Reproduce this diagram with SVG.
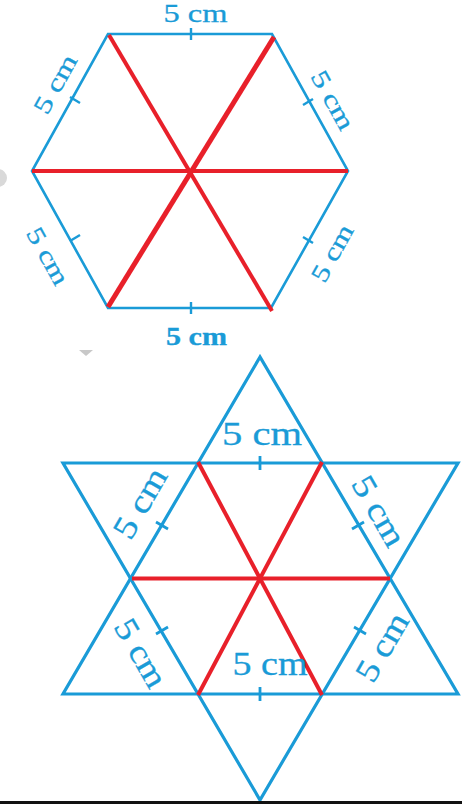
<svg xmlns="http://www.w3.org/2000/svg" width="462" height="804" viewBox="0 0 462 804">
<style>
.b{stroke:#1a9bd7;fill:none;stroke-linejoin:miter;stroke-linecap:butt}
.r{stroke:#e8202a;fill:none;stroke-linecap:butt}
.t{fill:#1a9bd7;stroke:#1a9bd7;stroke-width:0.3;font-family:"Liberation Serif","Times New Roman",serif;text-anchor:middle;dominant-baseline:central}
.hs{font-size:25px}
.ss{font-size:33px}
</style>
<rect width="462" height="804" fill="#ffffff"/>
<circle cx="-2" cy="178" r="9" fill="#d9d9d9"/>
<path d="M79,350 L93,350 L86,356 Z" fill="#c8c8c8"/>
<g id="hexagon">
  <polygon class="b" stroke-width="2.6" points="108,34 272,34 348,171 271,308 108,308 32,171"/>
  <g class="b" stroke-width="2.4">
    <line x1="191" y1="28" x2="191" y2="40"/>
    <line x1="191" y1="302" x2="191" y2="314"/>
    <line x1="70" y1="97" x2="80" y2="103"/>
    <line x1="303" y1="105" x2="313" y2="99"/>
    <line x1="70" y1="241" x2="80" y2="235"/>
    <line x1="303" y1="237" x2="313" y2="243"/>
  </g>
  <line class="r" stroke-width="4" x1="32" y1="171" x2="348" y2="171"/>
  <line class="r" stroke-width="4" x1="109" y1="35" x2="272" y2="311"/>
  <line class="r" stroke-width="5" x1="274" y1="37" x2="108" y2="307"/>
  <text class="t hs" x="195.5" y="13" textLength="64" lengthAdjust="spacingAndGlyphs">5 cm</text>
  <text class="t hs" x="196.5" y="336" textLength="61" lengthAdjust="spacingAndGlyphs" font-weight="bold">5 cm</text>
  <text class="t hs" transform="translate(55,84) rotate(-61)" textLength="64" lengthAdjust="spacingAndGlyphs">5 cm</text>
  <text class="t hs" transform="translate(333,100) rotate(61)" textLength="64" lengthAdjust="spacingAndGlyphs">5 cm</text>
  <text class="t hs" transform="translate(48,256) rotate(61)" textLength="62" lengthAdjust="spacingAndGlyphs">5 cm</text>
  <text class="t hs" transform="translate(332,253) rotate(-61)" textLength="62" lengthAdjust="spacingAndGlyphs">5 cm</text>
</g>
<g id="star">
  <polygon class="b" stroke-width="3.2" points="260,357 63,694 458,694"/>
  <polygon class="b" stroke-width="3.2" points="63,463 458,463 260,800"/>
  <g class="b" stroke-width="2.8">
    <line x1="260" y1="456" x2="260" y2="470"/>
    <line x1="260" y1="687" x2="260" y2="701"/>
    <line x1="156" y1="522" x2="168" y2="529"/>
    <line x1="352" y1="529" x2="364" y2="522"/>
    <line x1="156" y1="634" x2="168" y2="627"/>
    <line x1="354" y1="627" x2="366" y2="634"/>
  </g>
  <line class="r" stroke-width="4" x1="132" y1="578.5" x2="390" y2="578.5"/>
  <line class="r" stroke-width="4" x1="198" y1="462" x2="322" y2="695"/>
  <line class="r" stroke-width="4" x1="322" y1="462" x2="198" y2="695"/>
  <text class="t ss" x="262" y="434" textLength="80" lengthAdjust="spacingAndGlyphs">5 cm</text>
  <text class="t ss" x="270" y="664" textLength="75" lengthAdjust="spacingAndGlyphs">5 cm</text>
  <text class="t ss" transform="translate(140,503) rotate(-60)" textLength="76" lengthAdjust="spacingAndGlyphs">5 cm</text>
  <text class="t ss" transform="translate(379,511) rotate(60)" textLength="76" lengthAdjust="spacingAndGlyphs">5 cm</text>
  <text class="t ss" transform="translate(141,653) rotate(60)" textLength="74" lengthAdjust="spacingAndGlyphs">5 cm</text>
  <text class="t ss" transform="translate(382,647) rotate(-60)" textLength="74" lengthAdjust="spacingAndGlyphs">5 cm</text>
</g>
<rect x="0" y="801" width="462" height="3" fill="#111111"/>
</svg>
